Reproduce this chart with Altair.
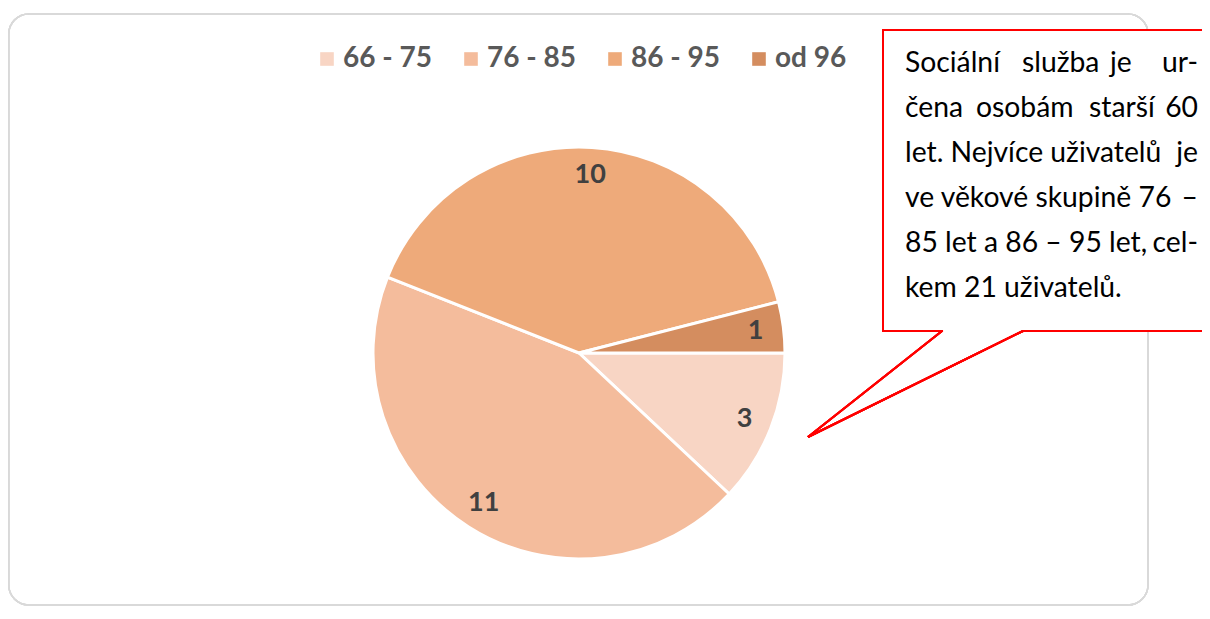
import math
import altair as alt
import pandas as pd

# ---- data ----
categories = ["66 - 75", "76 - 85", "86 - 95", "od 96"]
values = [3, 11, 10, 1]
slice_colors = ["#f8d5c4", "#f4bc9c", "#eeaa7a", "#d48d5f"]

callout_left_words = ["Sociální", "služba", "je", "čena", "osobám", "starší",
                      "let. Nejvíce uživatelů", "ve věkové skupině 76",
                      "85 let a 86 – 95 let,", "kem 21 uživatelů."]
callout_right_words = ["ur-", "60", "je", "–", "cel-"]

FONT = "Lato"
W, H = 1194, 600
CX, CY, R = 571, 345, 206

df = pd.DataFrame({"cat": categories, "value": values, "idx": list(range(len(values)))})

theta = alt.Theta("value:Q", stack=True,
                  scale=alt.Scale(range=[math.pi / 2, math.pi / 2 + 2 * math.pi]))

pie = alt.Chart(df).mark_arc(outerRadius=R, stroke="white", strokeWidth=3).encode(
    theta=theta,
    order=alt.Order("idx:Q"),
    x=alt.value(CX), y=alt.value(CY),
    color=alt.Color("cat:N",
                    scale=alt.Scale(domain=categories, range=slice_colors),
                    sort=categories,
                    legend=alt.Legend(title=None, orient="none", legendX=305, legendY=37,
                                      direction="horizontal", columns=4,
                                      symbolType="square", symbolSize=185,
                                      symbolStrokeWidth=0,
                                      labelFont=FONT, labelFontSize=28,
                                      labelFontWeight="bold", labelColor="#595959",
                                      labelOffset=2, columnPadding=24)),
)

labels = alt.Chart(df).mark_text(radius=178, font=FONT, fontSize=27, fontWeight="bold",
                                 color="#404040", baseline="middle").encode(
    theta=theta,
    order=alt.Order("idx:Q"),
    x=alt.value(CX), y=alt.value(CY),
    text="value:Q",
)

# ---- decorations ----
frame = alt.Chart(df).mark_rect(fill=None, stroke="#d9d9d9", strokeWidth=1.5,
                                cornerRadius=20).encode(
    x=alt.value(0.75), x2=alt.value(1140), y=alt.value(6), y2=alt.value(597))

box = alt.Chart(df).mark_rect(fill="white", stroke="#ff0000", strokeWidth=2).encode(
    x=alt.value(875), x2=alt.value(1230), y=alt.value(22), y2=alt.value(323))

gap = alt.Chart(df).mark_rule(stroke="white", strokeWidth=4).encode(
    x=alt.value(935.5), x2=alt.value(1013.5), y=alt.value(323), y2=alt.value(323))
ptr1 = alt.Chart(df).mark_rule(stroke="#ff0000", strokeWidth=2).encode(
    x=alt.value(934), y=alt.value(323), x2=alt.value(800), y2=alt.value(429))
ptr2 = alt.Chart(df).mark_rule(stroke="#ff0000", strokeWidth=2).encode(
    x=alt.value(1015), y=alt.value(323), x2=alt.value(800), y2=alt.value(429))

LX, RX = 897, 1190
base_y = [64, 109, 154, 199, 244, 289]
left_x = [LX, 1014, 1102, LX, 968, 1081, LX, LX, LX, LX]
left_y = [base_y[0]] * 3 + [base_y[1]] * 3 + base_y[2:]
right_y = base_y[:5]

tl = pd.DataFrame({"px": left_x, "py": left_y, "t": callout_left_words})
tr = pd.DataFrame({"px": [RX] * 5, "py": right_y, "t": callout_right_words})

txt_left = alt.Chart(tl).mark_text(align="left", baseline="alphabetic", font=FONT,
                                   fontSize=28.3, color="#000000").encode(
    x=alt.X("px:Q", scale=None), y=alt.Y("py:Q", scale=None), text="t:N")
txt_right = alt.Chart(tr).mark_text(align="right", baseline="alphabetic", font=FONT,
                                    fontSize=28.3, color="#000000").encode(
    x=alt.X("px:Q", scale=None), y=alt.Y("py:Q", scale=None), text="t:N")

chart = alt.layer(frame, pie, labels, box, gap, ptr1, ptr2, txt_left, txt_right).properties(
    width=W, height=H, autosize=alt.AutoSizeParams(type="none"), padding=0,
).resolve_scale(x="independent", y="independent").configure_view(strokeWidth=0)

chart.save("out.html", embed_options={"renderer": "svg", "actions": False})
